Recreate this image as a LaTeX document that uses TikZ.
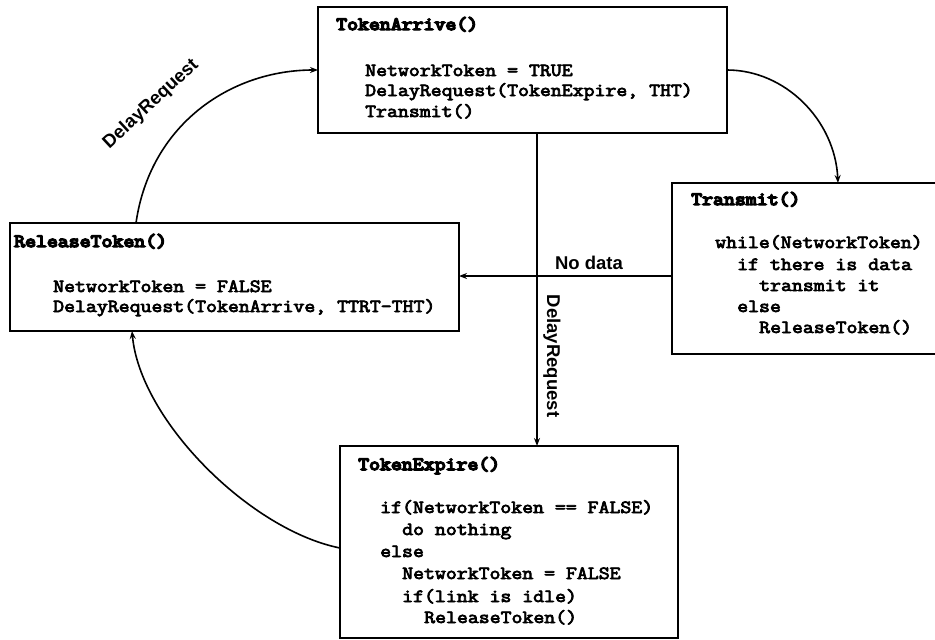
\documentclass[tikz,border=0pt]{standalone}
\usepackage{fontspec}
\newfontfamily\codefont[FakeStretch=1.14, FakeBold=4]{Latin Modern Mono}
\newfontfamily\titlefont[FakeStretch=1.14, FakeBold=8]{Latin Modern Mono}
\newfontfamily\labelfont{Liberation Sans}
\usetikzlibrary{arrows.meta}
\begin{document}
\begin{tikzpicture}[x=1pt,y=-1pt,
  box/.style={draw, line width=1.7pt},
  ttl/.style={anchor=west, inner sep=0pt, text height=14pt, text depth=4pt, font=\titlefont\fontsize{18.6}{21}\selectfont},
  code/.style={anchor=west, inner sep=0pt, text height=14pt, text depth=4pt, font=\codefont\fontsize{18.6}{21}\selectfont},
  lbl/.style={inner sep=0pt, font=\labelfont\bfseries\fontsize{18.5}{21}\selectfont},
  conn/.style={line width=1.6pt, -{Stealth[length=8pt,width=6pt]}}]
\clip (0,0) rectangle (935,640);
% boxes
\draw[box] (318,7) rectangle (727,133);
\node[inner sep=0pt, minimum width=409pt, minimum height=126pt] (TA) at (522.5,70) {};
\draw[box] (950,183) -- (672,183) -- (672,354) -- (950,354);
\node[inner sep=0pt, minimum width=278pt, minimum height=171pt] (TR) at (811,268.5) {};
\draw[box] (10,223) rectangle (459,331);
\node[inner sep=0pt, minimum width=449pt, minimum height=108pt] (RT) at (234.5,277) {};
\draw[box] (340,446) rectangle (678,638);
\node[inner sep=0pt, minimum width=338pt, minimum height=192pt] (TE) at (509,542) {};
% TokenArrive text
\node[ttl] (ta0) at (336,25) {TokenArrive()};
\node[code] (ta1) at (365,71) {NetworkToken = TRUE};
\node[code] (ta2) at (365,91) {DelayRequest(TokenExpire, THT)};
\node[code] (ta3) at (365,112) {Transmit()};
% Transmit text
\node[ttl] (tr0) at (691,200) {Transmit()};
\node[code] (tr1) at (715,243) {while(NetworkToken)};
\node[code] (tr2) at (737,265) {if there is data};
\node[code] (tr3) at (759,286) {transmit it};
\node[code] (tr4) at (737,307) {else};
\node[code] (tr5) at (759,328) {ReleaseToken()};
% ReleaseToken text
\node[ttl] (rt0) at (14,242) {ReleaseToken()};
\node[code] (rt1) at (53,287) {NetworkToken = FALSE};
\node[code] (rt2) at (53,307) {DelayRequest(TokenArrive, TTRT-THT)};
% TokenExpire text
\node[ttl] (te0) at (358,465) {TokenExpire()};
\node[code] (te1) at (380,508) {if(NetworkToken == FALSE)};
\node[code] (te2) at (402,530) {do nothing};
\node[code] (te3) at (380,552) {else};
\node[code] (te4) at (402,574) {NetworkToken = FALSE};
\node[code] (te5) at (402,597) {if(link is idle)};
\node[code] (te6) at (424,618) {ReleaseToken()};
% connectors
\coordinate (p1) at (136,223);
\coordinate (p2) at (318,70);
\draw[conn] (p1) .. controls (150,125) and (230,70) .. (p2);
\coordinate (p3) at (727,70);
\coordinate (p4) at (838,183);
\draw[conn] (p3) .. controls (785,70) and (835,120) .. (p4);
\coordinate (p5) at (537,133);
\coordinate (p6) at (537,446);
\draw[conn] (p5) -- (p6);
\coordinate (p7) at (672,276);
\coordinate (p8) at (459,276);
\draw[conn] (p7) -- (p8);
\coordinate (p9) at (340,548);
\coordinate (p10) at (132,331);
\draw[conn] (p9) .. controls (250,530) and (140,420) .. (p10);
% labels
\node[lbl, rotate=42.8] (l1) at (151,104) {DelayRequest};
\node[lbl, rotate=-90] (l2) at (552,356) {DelayRequest};
\node[lbl] (l3) at (589,263) {No data};
\end{tikzpicture}
\end{document}
